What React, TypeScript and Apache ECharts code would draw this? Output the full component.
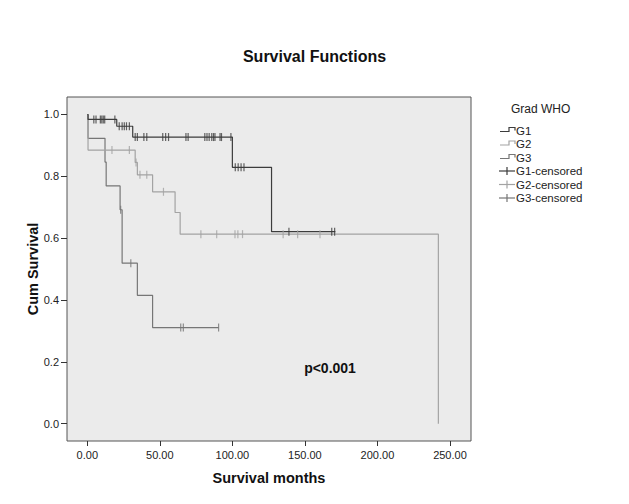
import React, { useEffect, useRef } from "react";
import * as echarts from "echarts";

// Kaplan-Meier step curves (time in months, cumulative survival after the event)
const groupNames = ["G1", "G2", "G3"];
const g1Times = [0, 0.5, 20.3, 31.3, 100, 127, 171];
const g1Surv = [1, 0.984, 0.962, 0.927, 0.829, 0.621, 0.621];
const g2Times = [0, 0.5, 33, 34.5, 45, 60.5, 64, 242];
const g2Surv = [1, 0.885, 0.845, 0.805, 0.75, 0.683, 0.613, 0];
const g3Times = [0, 0.5, 12.2, 13, 22.6, 24, 34.5, 45, 90.5];
const g3Surv = [1, 0.923, 0.846, 0.769, 0.692, 0.519, 0.415, 0.311, 0.311];

// censored observation times
const g1Censored = [4.5, 6, 9, 10, 11, 12, 19, 22, 24, 25.5, 27, 29, 33, 34.5, 39, 41, 52, 54, 56, 68, 69.5, 81, 82.5, 84, 85.8, 87, 88, 91.5, 92.5, 99, 102, 104, 106, 108, 139, 168.5, 170.5];
const g2Censored = [17, 29, 33.6, 36.3, 41, 52.5, 78.3, 89.2, 101.8, 103.8, 107, 135, 145, 160.4];
const g3Censored = [23, 30, 64.4, 66.2, 90.5];

const xTicks = [0, 50, 100, 150, 200, 250];
const yTicks = [0, 0.2, 0.4, 0.6, 0.8, 1.0];
const colors = ["#3c3c3c", "#a3a3a3", "#767676"];

const FONT = "'Liberation Sans', Arial, sans-serif";

function survAt(times: number[], surv: number[], t: number) {
  let s = surv[0];
  for (let i = 0; i < times.length; i++) if (times[i] <= t) s = surv[i];
  return s;
}

export default function App() {
  const ref = useRef<HTMLDivElement>(null);
  useEffect(() => {
    if (!ref.current) return;
    const chart = echarts.init(ref.current, null, { renderer: "svg" });
    const curves = [
      [g1Times, g1Surv, g1Censored],
      [g2Times, g2Surv, g2Censored],
      [g3Times, g3Surv, g3Censored],
    ] as number[][][];

    const series: any[] = [];
    curves.forEach(([times, surv], i) => {
      series.push({
        type: "line",
        name: groupNames[i],
        step: "end",
        showSymbol: false,
        data: times.map((t, k) => [t, surv[k]]),
        lineStyle: { color: colors[i], width: 1.2 },
        itemStyle: { color: colors[i] },
        z: 3 - i,
      });
    });
    curves.forEach(([times, surv, cens], i) => {
      series.push({
        type: "scatter",
        name: groupNames[i] + "-censored",
        symbol: "rect",
        symbolSize: [1.2, 8],
        data: cens.map((t) => [t, survAt(times, surv, t)]),
        itemStyle: { color: colors[i] },
        z: 4,
      });
    });

    // legend drawn as graphics (SPSS-style step icons)
    const legendX = 500;
    const rowY = [130.5, 144, 157.5, 171, 184.5, 198];
    const graphics: any[] = [
      {
        type: "text",
        left: 511,
        top: 103,
        style: { text: "Grad WHO", font: `12px ${FONT}`, fill: "#222" },
      },
      {
        type: "text",
        left: "center",
        top: 48,
        style: { text: "Survival Functions", font: `bold 16px ${FONT}`, fill: "#111" },
      },
      {
        type: "text",
        x: 33,
        y: 269,
        rotation: Math.PI / 2,
        style: { text: "Cum Survival", font: `bold 14.5px ${FONT}`, fill: "#111", align: "center", verticalAlign: "middle" },
      },
      {
        type: "text",
        x: 330,
        y: 368,
        style: { text: "p<0.001", font: `bold 14px ${FONT}`, fill: "#111", align: "center", verticalAlign: "middle" },
      },
    ];
    groupNames.forEach((n, i) => {
      const y = rowY[i];
      graphics.push({
        type: "polyline",
        shape: { points: [[legendX, y + 1], [legendX + 9, y + 1], [legendX + 9, y - 3], [legendX + 15, y - 3], [legendX + 15, y]] },
        style: { stroke: colors[i], lineWidth: 1.2, fill: null },
      });
      graphics.push({
        type: "text",
        x: legendX + 16,
        y: y,
        style: { text: n, font: `11.5px ${FONT}`, fill: "#222", verticalAlign: "middle" },
      });
    });
    groupNames.forEach((n, i) => {
      const y = rowY[i + 3];
      graphics.push({
        type: "line",
        shape: { x1: legendX - 1, y1: y, x2: legendX + 15, y2: y },
        style: { stroke: colors[i], lineWidth: 1.2 },
      });
      graphics.push({
        type: "line",
        shape: { x1: legendX + 7, y1: y - 4, x2: legendX + 7, y2: y + 4 },
        style: { stroke: colors[i], lineWidth: 1.2 },
      });
      graphics.push({
        type: "text",
        x: legendX + 16,
        y: y,
        style: { text: n + "-censored", font: `11.5px ${FONT}`, fill: "#222", verticalAlign: "middle" },
      });
    });

    chart.setOption({
      animation: false,
      backgroundColor: "#ffffff",
      grid: {
        left: 67,
        right: 158,
        top: 97,
        bottom: 63,
        show: true,
        backgroundColor: "#ebebeb",
        borderColor: "#555",
        borderWidth: 1,
        containLabel: false,
      },
      xAxis: {
        type: "value",
        min: -14,
        max: 264.5,
        name: "Survival months",
        nameLocation: "middle",
        nameGap: 29,
        nameTextStyle: { fontFamily: FONT, fontWeight: "bold", fontSize: 14.5, color: "#111" },
        splitLine: { show: false },
        axisLine: { show: false, onZero: false },
        axisTick: { show: true, customValues: xTicks, length: 5, lineStyle: { color: "#333" } },
        axisLabel: {
          customValues: xTicks,
          formatter: (v: number) => v.toFixed(2),
          fontFamily: FONT,
          fontSize: 11,
          color: "#222",
          margin: 8,
        },
      },
      yAxis: {
        type: "value",
        min: -0.056,
        max: 1.0566,
        splitLine: { show: false },
        axisLine: { show: false, onZero: false },
        axisTick: { show: true, customValues: yTicks, length: 6, lineStyle: { color: "#333" } },
        axisLabel: {
          customValues: yTicks,
          formatter: (v: number) => v.toFixed(1),
          fontFamily: FONT,
          fontSize: 11,
          color: "#222",
          margin: 8,
        },
      },
      tooltip: { show: false },
      series,
      graphic: graphics,
    });
    return () => chart.dispose();
  }, []);
  return <div ref={ref} style={{ width: 629, height: 504, margin: -8 }} />;
}
